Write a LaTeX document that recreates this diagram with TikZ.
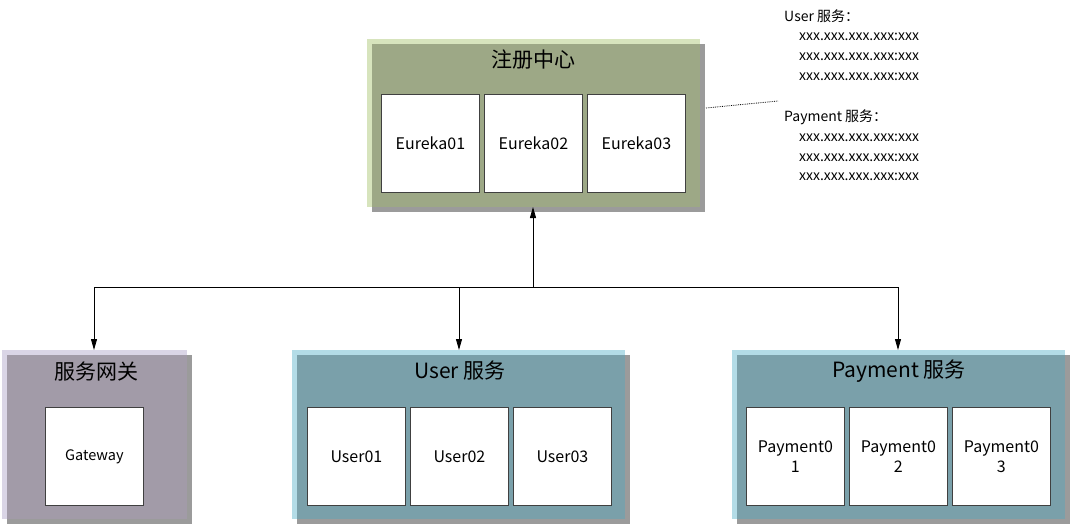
\documentclass[tikz,border=0pt]{standalone}
\usepackage{fontspec}
\setmainfont{Noto Sans CJK SC}
\usetikzlibrary{arrows.meta,backgrounds}
\definecolor{greenmain}{HTML}{9DA886}
\definecolor{greenlight}{HTML}{D7E4BD}
\definecolor{purpmain}{HTML}{A29BA8}
\definecolor{purplight}{HTML}{DAD5E6}
\definecolor{tealmain}{HTML}{7AA0AA}
\definecolor{teallight}{HTML}{B3DCE7}
\definecolor{shadowgray}{HTML}{9B9B9B}
\definecolor{boxline}{HTML}{404040}
\begin{document}
\begin{tikzpicture}[x=1pt,y=-1pt,
  groupbox/.style={anchor=north west, inner sep=0pt, outer sep=0pt, draw=none},
  innerbox/.style={anchor=north west, draw=boxline, line width=0.8pt, fill=white,
     minimum width=98pt, minimum height=98pt, inner sep=0pt, align=center,
     font=\fontsize{16}{20}\selectfont},
  title/.style={font=\fontsize{21}{24}\selectfont},
  note/.style={anchor=west, inner sep=0pt, font=\fontsize{14}{16}\selectfont},
  conn/.style={line width=0.8pt, -{Triangle[length=11pt,width=6pt]}},
  line/.style={line width=0.8pt}
]
\useasboundingbox (0,0) rectangle (1072,525);

% group boxes
\node[groupbox, fill=greenmain, minimum width=328pt, minimum height=163pt] (reg) at (372,44) {};
\node[groupbox, fill=purpmain, minimum width=180pt, minimum height=164pt] (gw) at (7,355) {};
\node[groupbox, fill=tealmain, minimum width=328pt, minimum height=164pt] (usr) at (297,355) {};
\node[groupbox, fill=tealmain, minimum width=328pt, minimum height=164pt] (pay) at (737,355) {};

\begin{scope}[on background layer]
  \foreach \g/\lc in {reg/greenlight, gw/purplight, usr/teallight, pay/teallight}{
    \fill[\lc] ([shift={(-5pt,5pt)}]\g.north west) rectangle (\g.south east);
    \fill[shadowgray] (\g.north west) rectangle ([shift={(5pt,-5pt)}]\g.south east);
  }
\end{scope}

% titles
\node[title] (regt) at (533,60) {注册中心};
\node[title] (gwt) at (96,372) {服务网关};
\node[title] (usrt) at (460,371) {User 服务};
\node[title] (payt) at (899,371) {Payment 服务};

% inner boxes
\node[innerbox] (e1) at (381,94) {Eureka01};
\node[innerbox] (e2) at (484,94) {Eureka02};
\node[innerbox] (e3) at (587,94) {Eureka03};

\node[innerbox, font=\fontsize{14.5}{16}\selectfont] (g1) at (45,407) {Gateway};

\node[innerbox] (u1) at (307,407) {User01};
\node[innerbox] (u2) at (410,407) {User02};
\node[innerbox] (u3) at (513,407) {User03};

\node[innerbox] (p1) at (746,407) {Payment0\\1};
\node[innerbox] (p2) at (849,407) {Payment0\\2};
\node[innerbox] (p3) at (952,407) {Payment0\\3};

% connectors
\coordinate (bus) at (533,287);
\coordinate (busl) at (94,287);
\coordinate (busm) at (459,287);
\coordinate (busr) at (898,287);
\draw[line] (busl) -- (busr);
\draw[conn] (bus) -- (bus |- reg.south);
\draw[conn] (busl) -- ([yshift=5pt]busl |- gw.north);
\draw[conn] (busm) -- ([yshift=5pt]busm |- usr.north);
\draw[conn] (busr) -- ([yshift=5pt]busr |- pay.north);

% notes
\node[note] (n1) at (784,16) {User 服务：};
\node[note] (n2) at (799,37) {xxx.xxx.xxx.xxx:xxx};
\node[note] (n3) at (799,57) {xxx.xxx.xxx.xxx:xxx};
\node[note] (n4) at (799,77) {xxx.xxx.xxx.xxx:xxx};
\node[note] (n5) at (784,117) {Payment 服务：};
\node[note] (n6) at (799,138) {xxx.xxx.xxx.xxx:xxx};
\node[note] (n7) at (799,158) {xxx.xxx.xxx.xxx:xxx};
\node[note] (n8) at (799,177) {xxx.xxx.xxx.xxx:xxx};

\coordinate (dotA) at (706,108);
\coordinate (dotB) at (778,101);
\draw[line width=0.8pt, densely dotted] (dotA) -- (dotB);
\end{tikzpicture}
\end{document}
